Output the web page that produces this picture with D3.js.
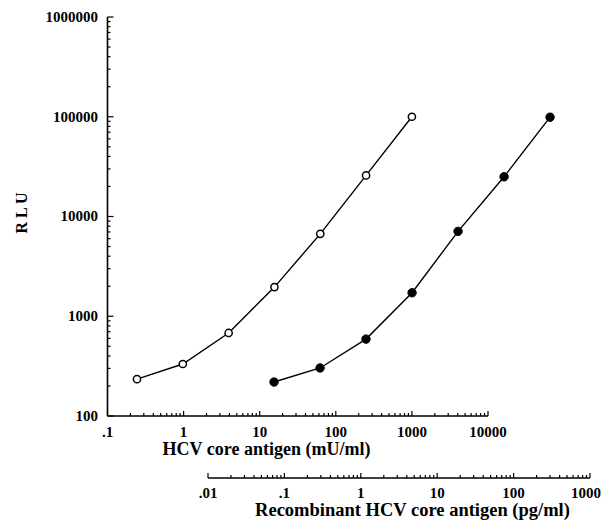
<!DOCTYPE html>
<html><head><meta charset="utf-8">
<script src="https://cdn.jsdelivr.net/npm/d3@7"></script>
<style>body{margin:0;background:#fff}text{font-family:"Liberation Serif","Times New Roman",serif;font-weight:bold;fill:#000}</style>
</head><body><svg id="c" width="603" height="525"></svg>
<script>
// Data
const nativeConc = [0.244, 0.977, 3.906, 15.625, 62.5, 250, 1000];        // mU/ml (open circles)
const nativeRLU  = [234, 332, 680, 1960, 6700, 25800, 100000];
const recombConc = [0.0732, 0.293, 1.17, 4.69, 18.75, 75, 300];          // pg/ml (filled circles)
const recombRLU  = [219, 303, 590, 1720, 7100, 25000, 99000];
const yTickLabels  = ["100", "1000", "10000", "100000", "1000000"];
const x1TickLabels = [".1", "1", "10", "100", "1000", "10000"];
const x2TickLabels = [".01", ".1", "1", "10", "100", "1000"];

const svg = d3.select("#c");
const y  = d3.scaleLog().domain([100, 1e6]).range([416, 17]);
const x1 = d3.scaleLog().domain([0.1, 10000]).range([107.5, 488]);
const x2 = d3.scaleLog().domain([0.01, 1000]).range([208, 590]);
const x2y = 478;

const g = svg.append("g").attr("stroke", "#000").attr("fill", "none");
const isMajor = v => Math.abs(Math.log10(v) - Math.round(Math.log10(v))) < 1e-9;
// y axis
g.append("line").attr("x1", x1(0.1)).attr("x2", x1(0.1)).attr("y1", y(1e6)).attr("y2", y(100)).attr("stroke-width", 1.6);
y.ticks().forEach(v => {
  g.append("line").attr("x1", x1(0.1)).attr("x2", x1(0.1) + (isMajor(v) ? 6 : 3))
    .attr("y1", y(v)).attr("y2", y(v)).attr("stroke-width", 1.2);
});
// x1 axis
g.append("line").attr("x1", x1(0.1)).attr("x2", x1(10000)).attr("y1", y(100)).attr("y2", y(100)).attr("stroke-width", 1.6);
x1.ticks().forEach(v => {
  g.append("line").attr("x1", x1(v)).attr("x2", x1(v)).attr("y1", y(100)).attr("y2", y(100) - (isMajor(v) ? 5 : 3)).attr("stroke-width", 1.2);
});
// x2 axis
g.append("line").attr("x1", x2(0.01)).attr("x2", x2(1000)).attr("y1", x2y).attr("y2", x2y).attr("stroke-width", 1.6);
x2.ticks().forEach(v => {
  g.append("line").attr("x1", x2(v)).attr("x2", x2(v)).attr("y1", x2y).attr("y2", x2y - (isMajor(v) ? 5 : 3)).attr("stroke-width", 1.2);
});

// tick labels
yTickLabels.forEach(t => svg.append("text").attr("x", 98).attr("y", y(+t)).attr("dy", "0.33em")
  .attr("text-anchor", "end").attr("font-size", 15).text(t));
x1TickLabels.forEach(t => svg.append("text").attr("x", x1(+t)).attr("y", 437)
  .attr("text-anchor", "middle").attr("font-size", 15).text(t));
x2TickLabels.forEach((t, i) => {
  const last = i === x2TickLabels.length - 1;
  svg.append("text").attr("x", last ? 601 : x2(+t)).attr("y", 498)
    .attr("text-anchor", last ? "end" : "middle").attr("font-size", 15).text(t);
});

// titles
svg.append("text").attr("x", 266.5).attr("y", 455).attr("text-anchor", "middle").attr("font-size", 18).text("HCV core antigen (mU/ml)");
svg.append("text").attr("x", 412.5).attr("y", 516).attr("text-anchor", "middle").attr("font-size", 18.5).text("Recombinant HCV core antigen (pg/ml)");
svg.append("text").attr("transform", "translate(27,213) rotate(-90)").attr("text-anchor", "middle").attr("font-size", 16).text("R L U");

// series
const line1 = d3.line().x(d => x1(d[0])).y(d => y(d[1]));
const line2 = d3.line().x(d => x2(d[0])).y(d => y(d[1]));
const s1 = nativeConc.map((c, i) => [c, nativeRLU[i]]);
const s2 = recombConc.map((c, i) => [c, recombRLU[i]]);
svg.append("path").attr("d", line1(s1)).attr("fill", "none").attr("stroke", "#000").attr("stroke-width", 1.4);
svg.append("path").attr("d", line2(s2)).attr("fill", "none").attr("stroke", "#000").attr("stroke-width", 1.4);
svg.selectAll("circle.o").data(s1).join("circle").attr("class", "o")
  .attr("cx", d => x1(d[0])).attr("cy", d => y(d[1])).attr("r", 3.6)
  .attr("fill", "#fff").attr("stroke", "#000").attr("stroke-width", 1.5);
svg.selectAll("circle.f").data(s2).join("circle").attr("class", "f")
  .attr("cx", d => x2(d[0])).attr("cy", d => y(d[1])).attr("r", 4.2)
  .attr("fill", "#000").attr("stroke", "#000").attr("stroke-width", 1);
</script></body></html>
